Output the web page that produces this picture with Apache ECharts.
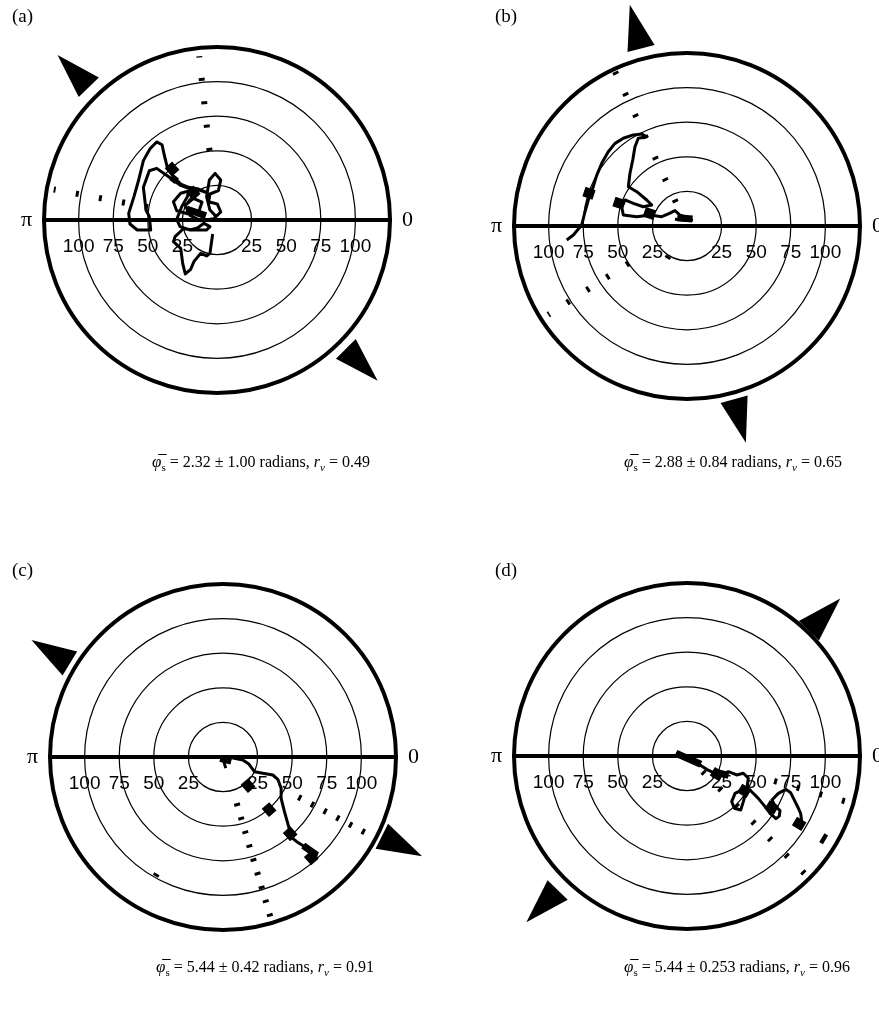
<!DOCTYPE html>
<html>
<head>
<meta charset="utf-8">
<title>Orientation tracks</title>
<script src="https://cdn.jsdelivr.net/npm/echarts@6/dist/echarts.min.js"></script>
<style>
  html, body { margin: 0; padding: 0; background: #fff; }
  #chart { width: 879px; height: 1009px; }
</style>
</head>
<body>
<div id="chart"></div>
<script>
// ring labels along the 0–π line
const ringTicks = [25, 50, 75, 100];
const panelNames = ['(a)', '(b)', '(c)', '(d)'];

// caption values
const meanAngle = ['2.32', '2.88', '5.44', '5.44'];
const angleSd = ['1.00', '0.84', '0.42', '0.253'];
const vectorR = ['0.49', '0.65', '0.91', '0.96'];

// tracks, [x, y] in ring units
const trackA = [[0,1.9],[-5.1,7.2],[-7.5,16.9],[-5.5,28.9],[-1.4,33.7],[2.7,28.9],[1.0,21.2],[-5.1,18.8],[-6.0,13.2],[0.2,11.6],[2.7,5.8],[-2.2,1.0],[-11.8,-0.5],[-19.5,3.4],[-22.9,10.6],[-17.1,15.7],[-10.8,13.0],[-13.2,5.8],[-20.5,4.3],[-29.1,6.7],[-31.5,13.2],[-26.2,19.3],[-19.5,21.2],[-12.8,21.7],[-7.0,19.7],[-14.2,22.6],[-20.5,23.6],[-26.2,26.0],[-31.5,31.3],[-35.9,38.0],[-38.3,47.7],[-39.7,54.4],[-43.6,56.4],[-48.4,51.5],[-53.2,42.9],[-56.6,28.9],[-60.0,16.9],[-63.8,4.8],[-62.9,-2.9],[-57.6,-7.2],[-47.9,-7.2],[-48.9,2.4],[-51.3,7.2],[-53.2,23.6],[-48.9,35.6],[-43.6,37.3],[-34.9,31.3],[-26.7,25.3],[-20.0,22.6],[-21.4,16.9],[-25.5,9.6],[-29.1,0.5],[-26.7,-4.8],[-19.5,-7.2],[-14.2,-5.8],[-9.4,-2.4],[-5.1,-4.8],[-7.5,-7.2],[-17.1,-7.2],[-24.3,-6.3],[-30.3,-12.0],[-31.5,-15.7],[-26.2,-20.5],[-24.8,-31.3],[-22.9,-39.0],[-19.0,-35.6],[-16.6,-29.9],[-11.8,-24.1],[-7.5,-26.0],[-5.1,-24.1],[-4.1,-16.9],[-3.1,-10.1]];
const trackB = [[-8.7,4.8],[-2.7,4.3],[3.4,4.3],[-0.2,6.3],[-5.1,7.9],[-8.7,11.1],[-13.5,8.7],[-18.3,6.7],[-26.7,7.9],[-36.3,6.7],[-46.0,7.9],[-47.2,13.9],[-44.8,18.8],[-38.8,16.4],[-31.6,13.9],[-25.5,15.2],[-29.1,18.8],[-36.3,24.8],[-42.4,28.4],[-41.2,38.1],[-39.2,47.7],[-37.6,57.3],[-35.2,63.4],[-29.1,64.5],[-32.7,66.5],[-38.8,65.8],[-46.0,63.4],[-52.0,59.7],[-56.9,53.7],[-61.6,45.3],[-65.2,36.8],[-68.1,27.2],[-71.3,18.8],[-73.7,10.3],[-76.1,0.7],[-82.1,-6.5],[-86.9,-10.1]];
const trackC = [[2.0,-8.0],[0.5,-3.0],[-0.1,-1.0],[4.7,-0.2],[14.3,-2.2],[18.7,-5.1],[22.8,-10.6],[28.8,-11.8],[36.0,-13.0],[39.6,-16.1],[42.0,-22.6],[42.0,-29.9],[44.4,-39.5],[47.6,-50.8],[49.3,-58.0],[53.3,-61.2],[58.2,-64.3],[63.7,-67.2],[67.3,-69.6],[67.3,-72.0]];
const trackD = [[-8.0,2.0],[-5.1,0.7],[2.2,-2.4],[8.2,-5.8],[14.2,-9.6],[20.2,-12.5],[25.0,-13.7],[29.9,-11.3],[35.9,-13.7],[40.7,-12.5],[44.3,-16.1],[43.1,-24.6],[40.7,-33.0],[38.8,-39.0],[34.2,-37.8],[32.3,-33.0],[34.7,-27.0],[39.5,-24.6],[45.5,-24.6],[51.5,-30.6],[56.4,-36.6],[60.4,-41.9],[64.3,-45.3],[66.7,-43.4],[67.2,-39.5],[63.6,-36.1],[61.4,-31.8],[66.0,-27.0],[71.5,-24.1],[74.9,-26.5],[77.3,-31.3],[79.7,-36.1],[82.1,-41.4],[82.8,-46.7],[81.6,-51.5]];

// heavy smudges on the tracks, [x, y] pairs
const blobA = [[-22,8],[-8,3],[-33,31],[-29,28]];
const blobB = [[-7,6],[4,5]];
const blobC = [[-2,-1],[6,-3],[58,-64],[68,-71]];
const blobD = [[-8,2],[10,-6],[22,-12],[30,-14]];

// dotted radial lines: [angle deg, r from, r to]
const dotsA = [[96.2, 50.2, 119], [169.4, 50.7, 120]];
const dotsB = [[115, 19, 123], [212.6, 49.9, 119], [238.6, 25.5, 27.5]];
const dotsC = [[286.5, 34.8, 121], [332, 61.7, 117], [240.5, 97, 99]];
const dotsD = [[315, 15.9, 121], [344, 65.5, 120]];

// heavy dashed mean vector: [angle deg, r from, r to]
const meanA = [131.4, 22, 61];
const meanB = [161.5, 24.6, 78.5];
const meanC = [311.2, 23.5, 115.2];
const meanD = [328.8, 21.4, 117];

// arrowheads outside the rim: [angle deg, r]
const arrowsA = [[134, 149.6], [315, 147.9]];
const arrowsB = [[104.5, 148.8], [285.2, 146]];
const arrowsC = [[148.6, 145.9], [333.5, 144.5]];
const arrowsD = [[45.8, 142.6], [226, 150.8]];

const tracks = [trackA, trackB, trackC, trackD];
const blobs = [blobA, blobB, blobC, blobD];
const dots = [dotsA, dotsB, dotsC, dotsD];
const means = [meanA, meanB, meanC, meanD];
const arrows = [arrowsA, arrowsB, arrowsC, arrowsD];

// layout
const R = 173;
const panels = [
  { cx: 217, cy: 220, capX: 261, capY: 463, dotGap: 20.5 },
  { cx: 687, cy: 226, capX: 733, capY: 463, dotGap: 20.5 },
  { cx: 223, cy: 757, capX: 265, capY: 968, dotGap: 11.4 },
  { cx: 687, cy: 756, capX: 737, capY: 968, dotGap: 20.5 }
];

const serif = '"Liberation Serif", "Times New Roman", serif';
const chart = echarts.init(document.getElementById('chart'));

const option = {
  animation: false,
  backgroundColor: '#fff',
  grid: [], xAxis: [], yAxis: [],
  polar: [], radiusAxis: [], angleAxis: [],
  series: [], graphic: []
};

panels.forEach((p, i) => {
  // upper half grid: its bottom edge is the 0–π line
  option.grid.push({ left: p.cx - R, top: p.cy - R, width: 2 * R, height: R });
  option.xAxis.push({
    gridIndex: i, type: 'value', min: -125, max: 125, interval: 25,
    axisLine: { onZero: false, lineStyle: { color: '#000', width: 4 } },
    axisTick: { show: false },
    splitLine: { show: false },
    axisLabel: {
      margin: 17, color: '#000', fontFamily: '"Liberation Sans", Arial, sans-serif', fontSize: 19,
      formatter: v => ringTicks.includes(Math.abs(v)) ? String(Math.abs(v)) : ''
    }
  });
  option.yAxis.push({ gridIndex: i, type: 'value', min: 0, max: 125, show: false });

  option.polar.push({ center: [p.cx, p.cy], radius: R });
  option.radiusAxis.push({
    polarIndex: i, type: 'value', min: 0, max: 125, interval: 25,
    axisLine: { show: false }, axisTick: { show: false }, axisLabel: { show: false },
    splitLine: { lineStyle: { color: '#000', width: 1.2 } }
  });
  option.angleAxis.push({
    polarIndex: i, type: 'value', min: 0, max: 360, interval: 180,
    startAngle: 0, clockwise: false,
    axisLine: { lineStyle: { color: '#000', width: 4 } },
    axisTick: { show: false }, splitLine: { show: false },
    axisLabel: {
      margin: 12, color: '#000', fontFamily: serif, fontSize: 22,
      formatter: v => v === 0 ? '0' : (v === 180 ? 'π' : '')
    }
  });

  // track
  option.series.push({
    type: 'line', xAxisIndex: i, yAxisIndex: i, data: tracks[i],
    symbol: 'none', clip: false, z: 5,
    lineStyle: { color: '#000', width: 3, join: 'round' }
  });
  // heavy bits
  for (let k = 0; k < blobs[i].length; k += 2) {
    option.series.push({
      type: 'line', xAxisIndex: i, yAxisIndex: i, data: [blobs[i][k], blobs[i][k + 1]],
      symbol: 'none', clip: false, z: 5,
      lineStyle: { color: '#000', width: 7 }
    });
  }
  // dotted radial lines
  dots[i].forEach(d => {
    option.series.push({
      type: 'line', coordinateSystem: 'polar', polarIndex: i,
      data: [[d[1], d[0]], [d[2], d[0]]],
      symbol: 'none', clip: false, z: 4,
      lineStyle: { color: '#000', width: 6, type: [3, p.dotGap], cap: 'butt' }
    });
  });
  // mean vector
  const m = means[i];
  option.series.push({
    type: 'line', coordinateSystem: 'polar', polarIndex: i,
    data: [[m[1], m[0]], [m[2], m[0]]],
    symbol: 'none', clip: false, z: 4,
    lineStyle: { color: '#000', width: 10, type: [11, 21], cap: 'butt' }
  });
  // arrowheads
  option.series.push({
    type: 'scatter', coordinateSystem: 'polar', polarIndex: i, clip: false, z: 6,
    symbol: 'triangle', symbolSize: [28, 45],
    data: arrows[i].map(a => ({ value: [a[1], a[0]], symbolRotate: a[0] - 90 })),
    itemStyle: { color: '#000', opacity: 1 }
  });

  // panel letter
  option.graphic.push({
    type: 'text', left: i % 2 === 0 ? 12 : 495, top: i < 2 ? 8 : 562,
    style: { text: panelNames[i], fill: '#000', font: '19px ' + serif }
  });
  // caption
  option.graphic.push({
    type: 'text', x: p.capX, y: p.capY,
    style: {
      text: '{phi|φ\u0305}{sub|s}{t| = ' + meanAngle[i] + ' ± ' + angleSd[i] + ' radians, }{it|r}{subi|v}{t| = ' + vectorR[i] + '}',
      align: 'center', verticalAlign: 'middle', fill: '#000',
      rich: {
        t: { fontSize: 16, fontFamily: serif, lineHeight: 22, verticalAlign: 'middle', fill: '#000' },
        phi: { fontSize: 17, fontFamily: serif, fontStyle: 'italic', lineHeight: 22, verticalAlign: 'middle', fill: '#000' },
        it: { fontSize: 16, fontFamily: serif, fontStyle: 'italic', lineHeight: 22, verticalAlign: 'middle', fill: '#000' },
        sub: { fontSize: 11, fontFamily: serif, lineHeight: 11, verticalAlign: 'bottom', fill: '#000' },
        subi: { fontSize: 11, fontFamily: serif, fontStyle: 'italic', lineHeight: 11, verticalAlign: 'bottom', fill: '#000' }
      }
    }
  });
});

chart.setOption(option);
window.addEventListener('resize', () => chart.resize());
</script>
</body>
</html>
